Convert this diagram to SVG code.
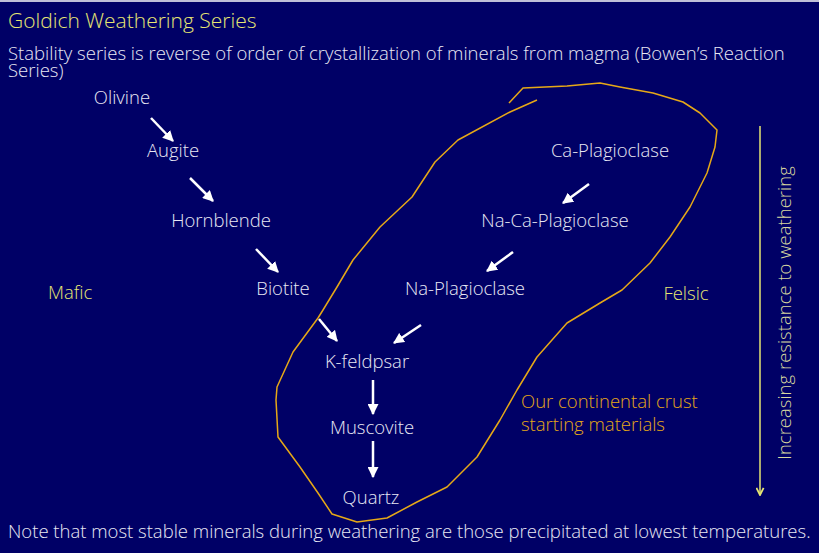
<svg xmlns="http://www.w3.org/2000/svg" width="819" height="553" viewBox="0 0 819 553">
<style>
text{font-family:"Open Sans","Noto Sans","DejaVu Sans",sans-serif;font-weight:300;}
.n{fill:#e8e8f4;font-size:18.5px;text-anchor:middle;}
.w{fill:#e8e8f4;font-size:18.5px;}
.y{fill:#e6e673;font-size:18.5px;}
.o{fill:#e6a817;font-size:18.5px;}
.a{stroke:#ffffff;stroke-width:2.5;fill:none;marker-end:url(#ah);}
</style>
<defs>
<marker id="ah" viewBox="0 0 10 10" refX="9" refY="5" markerWidth="4.4" markerHeight="4.4" orient="auto" markerUnits="strokeWidth">
<path d="M0,0 L10,5 L0,10 z" fill="#ffffff"/>
</marker>
<marker id="yh" viewBox="0 0 10 10" refX="9" refY="5" markerWidth="6" markerHeight="6" orient="auto" markerUnits="strokeWidth">
<path d="M1,1 L9,5 L1,9" fill="none" stroke="#e6e673" stroke-width="2"/>
</marker>
</defs>
<rect width="819" height="553" fill="#000066"/>
<line x1="0" y1="1" x2="819" y2="1" stroke="#ffffff" stroke-width="1.5"/>
<text x="8" y="28" style="fill:#e6e673;font-size:21px">Goldich Weathering Series</text>
<text x="8" y="60" class="w">Stability series is reverse of order of crystallization of minerals from magma (Bowen’s Reaction</text>
<text x="8" y="77" class="w">Series)</text>
<path id="outline" d="M537,100 L510,112 L458,140 L435,162 L412,197 L380,227 L353,260 L337,287 L323,310 L318,318 L293,352 L277,387 L276,400 L278,437 L300,467 L318,493 L332,514 L357,522 L387,518 L417,502 L447,487 L477,457 L500,420 L517,390 L537,357 L567,323 L600,303 L622,290 L650,263 L670,237 L690,207 L707,173 L715,147 L717,130 L700,113 L683,102 L653,93 L620,87 L600,83 L567,86 L523,88 L509,103" fill="none" stroke="#e6a817" stroke-width="1.5" stroke-linejoin="round"/>
<g id="connectors">
<line class="a" x1="151" y1="118" x2="173" y2="141"/>
<line class="a" x1="190" y1="178" x2="213" y2="201"/>
<line class="a" x1="256" y1="249" x2="278" y2="272"/>
<line class="a" x1="319" y1="319" x2="337" y2="341"/>
<line class="a" x1="421" y1="325" x2="394" y2="343"/>
<line class="a" x1="589" y1="184" x2="563" y2="203"/>
<line class="a" x1="513" y1="252" x2="487" y2="271"/>
<line class="a" x1="373" y1="380" x2="373" y2="414"/>
<line class="a" x1="373" y1="441" x2="373" y2="477"/>
<line x1="760" y1="126" x2="760" y2="495" stroke="#e6e673" stroke-width="1.5" marker-end="url(#yh)"/>
</g>
<g id="olivine"><text class="n" x="122" y="104">Olivine</text></g>
<g id="augite"><text class="n" x="173" y="157">Augite</text></g>
<g id="hornblende"><text class="n" x="221" y="227">Hornblende</text></g>
<g id="biotite"><text class="n" x="283" y="295">Biotite</text></g>
<g id="ca-plag"><text class="n" x="610" y="157">Ca-Plagioclase</text></g>
<g id="naca-plag"><text class="n" x="555" y="227">Na-Ca-Plagioclase</text></g>
<g id="na-plag"><text class="n" x="465" y="295">Na-Plagioclase</text></g>
<g id="kfeldspar"><text class="n" x="367" y="368">K-feldpsar</text></g>
<g id="muscovite"><text class="n" x="372" y="434">Muscovite</text></g>
<g id="quartz"><text class="n" x="371" y="504">Quartz</text></g>
<text x="48" y="299" class="y">Mafic</text>
<text x="686" y="300" class="y" text-anchor="middle">Felsic</text>
<text x="521" y="408" class="o">Our continental crust</text>
<text x="521" y="431" class="o">starting materials</text>
<text transform="translate(791,313) rotate(-90)" text-anchor="middle" style="fill:#d8d8a0;font-size:18.5px">Increasing resistance to weathering</text>
<text x="8" y="538" class="w">Note that most stable minerals during weathering are those precipitated at lowest temperatures.</text>
</svg>
